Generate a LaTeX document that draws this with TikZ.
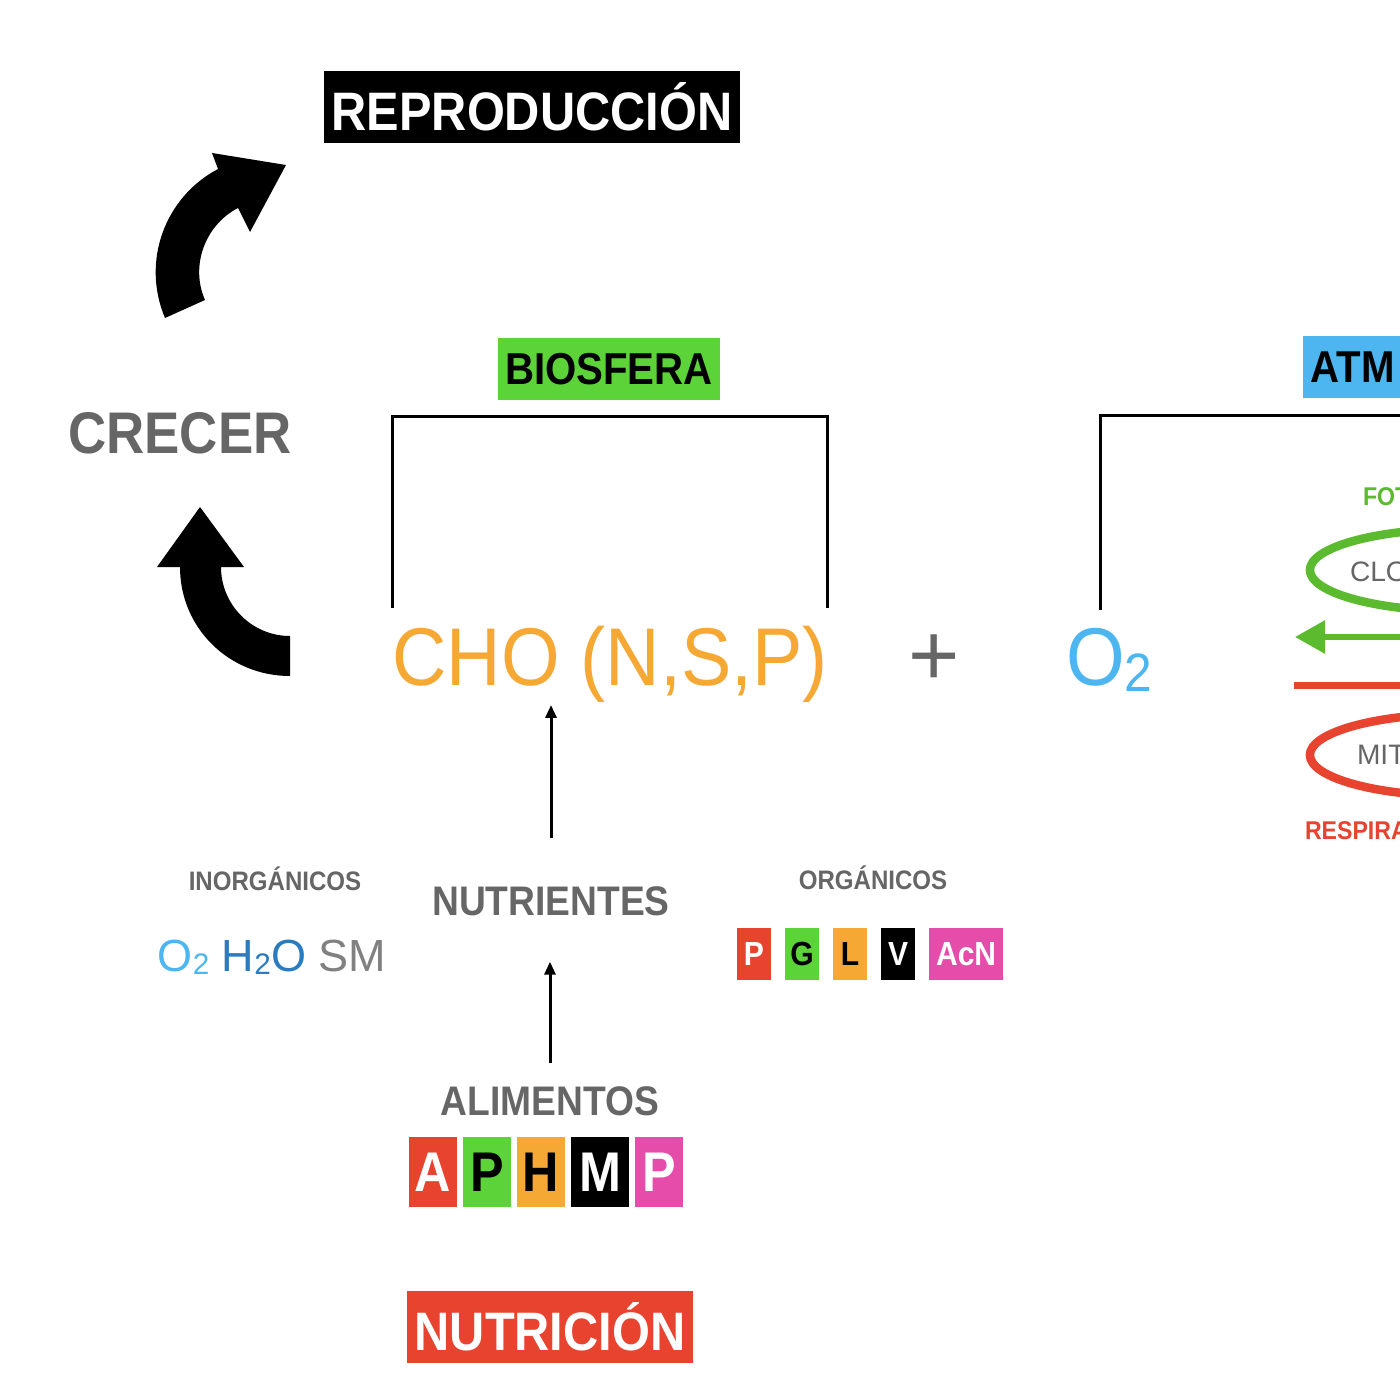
\documentclass[tikz,border=0pt]{standalone}
\usepackage{fontspec}
\setmainfont{Liberation Sans}[BoldFeatures={FakeStretch=0.9}]
\newfontfamily\chofont{Liberation Sans}[FakeStretch=0.92]
\usepackage{xcolor}
\usepackage{graphicx}
\usetikzlibrary{shapes,arrows.meta,positioning}

\definecolor{nred}{HTML}{E8432E}
\definecolor{ngreen}{HTML}{5DD33A}
\definecolor{norange}{HTML}{F5A833}
\definecolor{npink}{HTML}{E64DAA}
\definecolor{lblue}{HTML}{4DB6F0}
\definecolor{dblue}{HTML}{2B7BC0}
\definecolor{tgray}{HTML}{666666}
\definecolor{fgreen}{HTML}{5BBA2E}

\newcommand{\fs}[1]{\fontsize{#1}{#1}\selectfont}
\newcommand{\chemsub}[1]{\raisebox{-0.08em}{\scalebox{0.66}{#1}}}

\begin{document}
\begin{tikzpicture}[
        x=0.01cm, y=-0.01cm,
        every node/.style={inner sep=0pt, outer sep=0pt},
        titlebox/.style={font={\bfseries\fs{15.4}}, text=white, inner xsep=0.08cm, minimum height=0.71cm},
        tagbox/.style={font={\bfseries\fs{12.7}}, text=black, inner xsep=0.075cm, minimum height=0.61cm},
        heading/.style={font={\bfseries\fs{11.75}}, text=tgray},
        smallhead/.style={font={\bfseries\fs{7.6}}, text=tgray},
        letterbox/.style={font={\bfseries\fs{9.5}}, minimum width=0.34cm, minimum height=0.51cm, inner xsep=0.05cm},
        foodbox/.style={font={\bfseries\fs{15.9}}, minimum width=0.48cm, minimum height=0.70cm, inner xsep=0.05cm},
        bracket/.style={line width=0.03cm},
        thinarrow/.style={-{Triangle[length=0.13cm,width=0.11cm]}, line width=0.03cm},
        organelle/.style={line width=0.085cm},
    ]
        \clip (0,0) rectangle (1400,1400);
        \fill[white] (0,0) rectangle (1400,1400);

        % Top of the cycle
        \node (repro) [titlebox, fill=black] at (532,107) {REPRODUCCIÓN};
        \node (crecer) [font={\bfseries\fs{16.7}}, text=tgray] at (180,433) {CRECER};

        % big curved arrows
        \fill (165,318) .. controls (141,261) and (165,197) .. (218,169) -- (212,153) -- (286,165)
            -- (250,232) -- (238,208) .. controls (205,225) and (190,266) .. (205,300) -- cycle;
        \fill (290,676) .. controls (229,676) and (180,628) .. (180,567) -- (157,567) -- (200,507)
            -- (244,567) -- (221,567) .. controls (221,605) and (252,636) .. (290,636) -- cycle;

        % Equation
        \node (cho) [font={\chofont\fs{23.3}}, text=norange, anchor=base] at (610,685) {CHO (N,S,P)};
        \node (plus) [font=\fs{25}, text=tgray] at (934,660) {+};
        \node (o2) [font={\chofont\fs{23.3}}, text=lblue, anchor=base west] at (1066,685) {O\chemsub{2}};

        \node (bio) [tagbox, fill=ngreen] at (609,369) {BIOSFERA};
        \node (atm) [tagbox, fill=lblue, anchor=west, text width=1.5cm, align=left] at (1303,367) {ATM};

        \draw [bracket] ([yshift=0.18cm]cho.north west) |- ([yshift=-0.17cm]bio.south)
            -| ([yshift=0.18cm]cho.north east);
        \draw [bracket] ([xshift=0.34cm, yshift=0.18cm]o2.north west) |- ([yshift=-0.18cm]atm.south east);

        % Organelles (right side)
        \node (foto) [font={\bfseries\fs{7.3}}, text=fgreen, anchor=west] at (1363,497) {FOT};
        \node (cloro) [font=\fs{8}, text=tgray, anchor=west] at (1350,572) {CLO};
        \node (mito) [font=\fs{8}, text=tgray, anchor=west] at (1357,755) {MIT};
        \node (resp) [font={\bfseries\fs{7.3}}, text=nred, anchor=west] at (1305,831) {RESPIRA};
        \draw [organelle, fgreen] (1458,570) ellipse [x radius=1.48cm, y radius=0.41cm];
        \draw [organelle, nred] (1458,755) ellipse [x radius=1.48cm, y radius=0.41cm];

        \coordinate (gin) at (1420,637);
        \coordinate (gout) at (1295,637);
        \draw [line width=0.06cm, fgreen, -{Triangle[length=0.3cm,width=0.32cm]}] (gin) -- (gout);
        \coordinate (rin) at (1294,685);
        \coordinate (rout) at (1420,685);
        \draw [line width=0.07cm, nred] (rin) -- (rout);

        % Nutrition
        \node (nut) [heading] at (551,901) {NUTRIENTES};
        \node (inorg) [smallhead, anchor=base] at (275,890) {INORGÁNICOS};
        \node (inorgf) [font=\fs{12.8}, anchor=base] at (272,971)
            {\textcolor{lblue}{O\chemsub{2}} \textcolor{dblue}{H\chemsub{2}O} \textcolor{gray}{SM}};
        \node (org) [smallhead, anchor=base] at (873,889) {ORGÁNICOS};

        \node (pp) [letterbox, fill=nred, text=white, anchor=west] at (737,954) {P};
        \node (gg) [letterbox, fill=ngreen, right=0.14cm of pp] {G};
        \node (ll) [letterbox, fill=norange, right=0.14cm of gg] {L};
        \node (vv) [letterbox, fill=black, text=white, right=0.14cm of ll] {V};
        \node (acn) [letterbox, fill=npink, text=white, minimum width=0.74cm, right=0.14cm of vv] {AcN};

        \node (alim) [heading] at (550,1101) {ALIMENTOS};
        \node (fa) [foodbox, fill=nred, text=white, anchor=west] at (409,1172) {A};
        \node (fp) [foodbox, fill=ngreen, right=0.06cm of fa] {P};
        \node (fh) [foodbox, fill=norange, right=0.06cm of fp] {H};
        \node (fm) [foodbox, fill=black, text=white, minimum width=0.58cm, right=0.06cm of fh] {M};
        \node (fp2) [foodbox, fill=npink, text=white, right=0.06cm of fm] {P};

        \node (nutri) [titlebox, fill=nred] at (550,1327) {NUTRICIÓN};

        % thin arrows
        \draw [thinarrow, shorten <=0.48cm, shorten >=0.03cm] (nut.north) -- (nut.north |- cho.south);
        \draw [thinarrow, shorten <=0.23cm, shorten >=0.46cm] (alim.north) -- (alim.north |- nut.south);

    \end{tikzpicture}
\end{document}
